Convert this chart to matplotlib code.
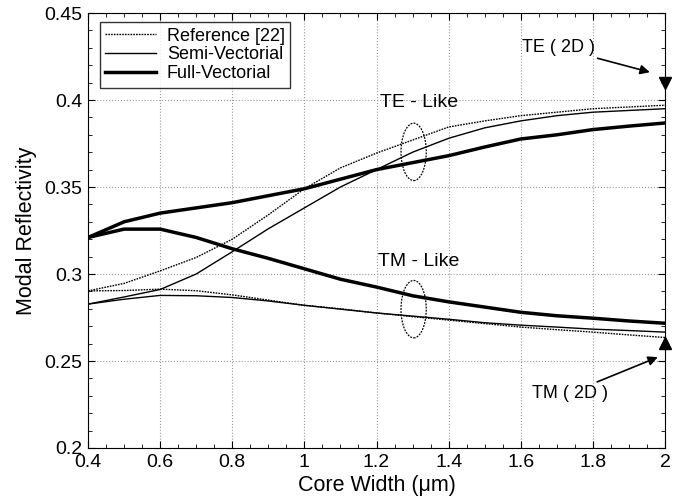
import matplotlib.pyplot as plt
from matplotlib.patches import Ellipse
from matplotlib.ticker import MultipleLocator

plt.rcParams['font.family'] = ['Liberation Sans', 'DejaVu Sans']

# Core width (um)
width = [0.4, 0.5, 0.6, 0.7, 0.8, 0.9, 1.0, 1.1, 1.2, 1.3, 1.4, 1.5, 1.6, 1.7, 1.8, 1.9, 2.0]

# TE-like modal reflectivity
ref_te = [0.2903, 0.2946, 0.3018, 0.3095, 0.320, 0.334, 0.349, 0.361, 0.3695, 0.377,
          0.3845, 0.388, 0.391, 0.393, 0.395, 0.396, 0.397]
semi_te = [0.2827, 0.2868, 0.2911, 0.300, 0.3128, 0.326, 0.338, 0.350, 0.360, 0.370,
           0.378, 0.384, 0.388, 0.391, 0.393, 0.394, 0.395]
full_te = [0.321, 0.330, 0.335, 0.338, 0.341, 0.345, 0.349, 0.3545, 0.360, 0.364,
           0.368, 0.373, 0.3776, 0.380, 0.383, 0.385, 0.3868]

# TM-like modal reflectivity
ref_tm = [0.2903, 0.2905, 0.2913, 0.2904, 0.288, 0.285, 0.282, 0.280, 0.2776, 0.2755,
          0.2735, 0.2715, 0.2695, 0.268, 0.2666, 0.265, 0.2635]
semi_tm = [0.2827, 0.2855, 0.2877, 0.2875, 0.2865, 0.2845, 0.282, 0.2798, 0.2776, 0.2758,
           0.274, 0.272, 0.2706, 0.2695, 0.2683, 0.2675, 0.2666]
full_tm = [0.321, 0.3258, 0.3258, 0.321, 0.3145, 0.309, 0.303, 0.297, 0.2925, 0.2875,
           0.284, 0.281, 0.278, 0.276, 0.2746, 0.273, 0.2717]

# 2D reference values at w = 2 um
te_2d = 0.4095
tm_2d = 0.2605

xticks = [0.4, 0.6, 0.8, 1.0, 1.2, 1.4, 1.6, 1.8, 2.0]
xlabels = ['0.4', '0.6', '0.8', '1', '1.2', '1.4', '1.6', '1.8', '2']
yticks = [0.2, 0.25, 0.3, 0.35, 0.4, 0.45]
ylabels = ['0.2', '0.25', '0.3', '0.35', '0.4', '0.45']

fig = plt.figure(figsize=(6.84, 5.01), dpi=100)
ax = fig.add_axes([0.1287, 0.1058, 0.8435, 0.8682])

dot = (0, (1.2, 0.8))
ax.plot(width, ref_te, color='black', linestyle=dot, linewidth=1.0, label='Reference [22]')
ax.plot(width, semi_te, color='black', linewidth=1.0, label='Semi-Vectorial')
ax.plot(width, full_te, color='black', linewidth=2.5, label='Full-Vectorial')
ax.plot(width, ref_tm, color='black', linestyle=dot, linewidth=1.0)
ax.plot(width, semi_tm, color='black', linewidth=1.0)
ax.plot(width, full_tm, color='black', linewidth=2.5)

ax.plot([2.0], [te_2d], marker='v', color='black', markersize=9, clip_on=False, zorder=5)
ax.plot([2.0], [tm_2d], marker='^', color='black', markersize=9, clip_on=False, zorder=5)

# ellipses grouping the curves
for yc in (0.3702, 0.2798):
    ax.add_patch(Ellipse((1.303, yc), 0.07, 0.033, fill=False, edgecolor='black',
                         linestyle=(0, (1.5, 1)), linewidth=0.9))

ax.text(1.21, 0.3988, 'TE - Like', fontsize=14, va='center')
ax.text(1.205, 0.3074, 'TM - Like', fontsize=14, va='center')

ax.annotate('TE ( 2D )', xy=(1.958, 0.416), xytext=(1.603, 0.430), fontsize=13,
            va='center', arrowprops=dict(arrowstyle='-|>', color='black', lw=1.2,
                                         mutation_scale=14, shrinkA=0, shrinkB=0))
ax.annotate('TM ( 2D )', xy=(1.98, 0.2522), xytext=(1.63, 0.2315), fontsize=13,
            va='center', arrowprops=dict(arrowstyle='-|>', color='black', lw=1.2,
                                         mutation_scale=14, shrinkA=0, shrinkB=0))

ax.set_xticks(xticks)
ax.set_xticklabels(xlabels)
ax.set_yticks(yticks)
ax.set_yticklabels(ylabels)
ax.xaxis.set_minor_locator(MultipleLocator(0.05))
ax.yaxis.set_minor_locator(MultipleLocator(0.01))
ax.set_xlim(0.4, 2.0)
ax.set_ylim(0.2, 0.45)

ax.tick_params(which='both', direction='in', top=True, right=True, labelsize=14)
ax.tick_params(which='major', length=5, pad=4)
ax.tick_params(which='minor', length=3)
ax.grid(True, which='major', color='#999999', linestyle=':', linewidth=0.8)

ax.set_xlabel('Core Width (\u03bcm)', fontsize=15.5, labelpad=3)
ax.set_ylabel('Modal Reflectivity', fontsize=15.5, labelpad=5)

leg = ax.legend(loc='upper left', fontsize=13, frameon=True, fancybox=False,
                edgecolor='black', handlelength=2.8, borderpad=0.3,
                labelspacing=0.1, handletextpad=0.6, bbox_to_anchor=(0.0208, 0.979),
                borderaxespad=0)
leg.get_frame().set_linewidth(1.0)

fig.savefig('out.png', dpi=100)
